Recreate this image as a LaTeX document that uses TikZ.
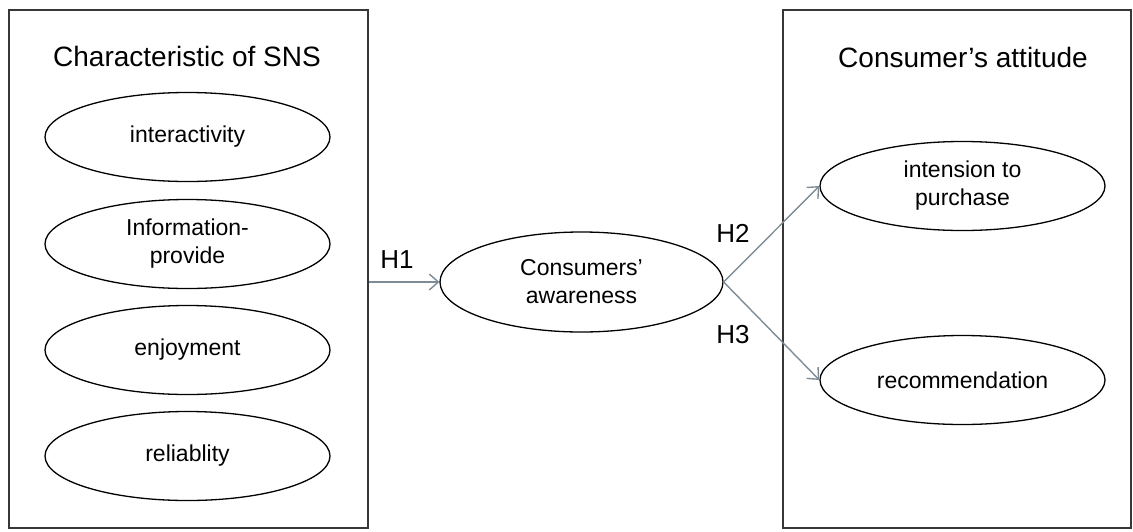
\documentclass[tikz,border=0pt]{standalone}
\usepackage{fontspec}
\setmainfont{Liberation Sans}
\usetikzlibrary{shapes.geometric,arrows.meta}
\definecolor{arrowgray}{RGB}{125,140,150}
\definecolor{boxgray}{RGB}{55,55,55}
\tikzset{
  panel/.style={draw=boxgray,line width=1.5pt,rectangle,inner sep=0pt},
  oval/.style={draw=black,line width=1.3pt,ellipse,inner sep=0pt,minimum width=285pt,minimum height=89pt,align=center,font=\fontsize{23}{28}\selectfont},
  paneltitle/.style={font=\fontsize{28}{33}\selectfont},
  hlabel/.style={font=\fontsize{26}{30}\selectfont},
  link/.style={draw=arrowgray,line width=1.4pt,-{Straight Barb[length=9pt,width=16pt,line width=1.4pt]}}
}
\begin{document}
\begin{tikzpicture}[x=1pt,y=-1pt]
\useasboundingbox (0,0) rectangle (1133,531);
\node[panel,minimum width=359pt,minimum height=518pt] (left) at (188.5,269) {};
\node[panel,minimum width=348pt,minimum height=518pt] (right) at (957,269) {};
\node[paneltitle] (lt) at (187,56) {Characteristic of SNS};
\node[paneltitle] (rt) at (963,57) {Consumer’s attitude};
\node[oval] (inter) at (187.5,137) {interactivity};
\node[oval] (info) at (187.5,244) {Information-\\provide};
\node[oval] (enjoy) at (187.5,350) {enjoyment};
\node[oval] (rel) at (187.5,456) {reliablity};
\node[oval,minimum width=283pt,minimum height=100pt] (aware) at (581.5,282) {Consumers’\\awareness};
\node[oval] (intent) at (962.5,186) {intension to\\purchase};
\node[oval] (recom) at (962.5,380) {recommendation};
\node[hlabel] (h1) at (397,260) {H1};
\node[hlabel] (h2) at (733,233) {H2};
\node[hlabel] (h3) at (733,335) {H3};
\coordinate (h1start) at (aware.west -| left.east);
\draw[link] (h1start) -- (aware.west);
\draw[link] (aware.east) -- (intent.west);
\draw[link] (aware.east) -- (recom.west);
\end{tikzpicture}
\end{document}
